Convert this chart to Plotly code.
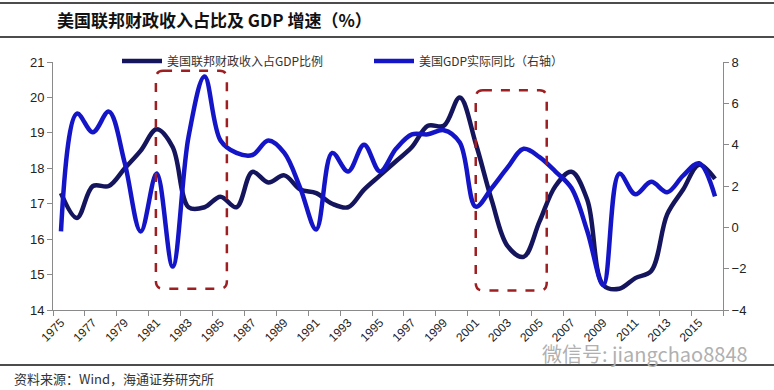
import plotly.graph_objects as go

years = list(range(1975, 2017))
revenue_pct_gdp = [17.3, 16.6, 17.5, 17.5, 18.0, 18.5, 19.1, 18.6, 16.9, 16.9,
                   17.2, 16.9, 17.9, 17.6, 17.8, 17.4, 17.3, 17.0, 16.9, 17.4,
                   17.8, 18.2, 18.6, 19.2, 19.2, 20.0, 18.7, 17.1, 15.8, 15.5,
                   16.5, 17.5, 17.9, 17.1, 14.7, 14.6, 14.9, 15.1, 16.7, 17.4,
                   18.1, 17.7]
gdp_growth = [-0.2, 5.5, 4.6, 5.6, 3.1, -0.2, 2.6, -1.9, 4.4, 7.3,
              4.2, 3.6, 3.5, 4.2, 3.6, 1.9, -0.1, 3.6, 2.7, 4.0,
              2.7, 3.8, 4.5, 4.5, 4.7, 4.1, 1.0, 1.9, 2.9, 3.8,
              3.4, 2.7, 1.9, -0.2, -2.8, 2.6, 1.6, 2.2, 1.7, 2.5,
              3.1, 1.5]
tick_years = list(range(1975, 2017, 2))
tick_labels = [str(y) for y in tick_years]

series_names = ["美国联邦财政收入占GDP比例", "美国GDP实际同比（右轴）"]
title_text = "<b>美国联邦财政收入占比及 GDP 增速（%）</b>"
source_text = "资料来源：Wind，海通证券研究所"
watermark_text = "微信号: jiangchao8848"

# highlighted periods: (x0, x1, y0, y1) on left axis
boxes = [(1980.95, 1985.4, 14.6, 20.75), (2001.0, 2005.45, 14.55, 20.2)]

PL, PR, PT, PB = 53, 51, 62, 80
W, H = 774, 390
pw, ph = W - PL - PR, H - PT - PB

def px2paper_x(px):
    return (px - PL) / pw

def px2paper_y(py):
    return (H - PB - py) / ph

fig = go.Figure()
fig.add_trace(go.Scatter(x=years, y=revenue_pct_gdp, name=series_names[0], mode="lines",
                         line=dict(color="#15155E", width=4.5, shape="spline", smoothing=1.0),
                         yaxis="y"))
fig.add_trace(go.Scatter(x=years, y=gdp_growth, name=series_names[1], mode="lines",
                         line=dict(color="#1515C8", width=4.5, shape="spline", smoothing=1.0),
                         yaxis="y2"))

font_fam = "Liberation Sans, Arial, Noto Sans CJK SC, sans-serif"
cjk_fam = "Noto Sans CJK SC, Liberation Sans, sans-serif"
axis_col = "#8a8a8a"

shapes = []
for (x0, x1, y0, y1) in boxes:
    rx, ry = 0.45, 0.22
    path = (f"M {x0+rx},{y1} L {x1-rx},{y1} Q {x1},{y1} {x1},{y1-ry} "
            f"L {x1},{y0+ry} Q {x1},{y0} {x1-rx},{y0} L {x0+rx},{y0} "
            f"Q {x0},{y0} {x0},{y0+ry} L {x0},{y1-ry} Q {x0},{y1} {x0+rx},{y1} Z")
    shapes.append(dict(type="path", path=path, xref="x", yref="y",
                       line=dict(color="#9E1F22", width=2.5, dash="dash")))

for py in [3, 37, 365]:
    shapes.append(dict(type="line", xref="paper", yref="paper",
                       x0=px2paper_x(0), x1=px2paper_x(W), y0=px2paper_y(py), y1=px2paper_y(py),
                       line=dict(color="#111111", width=1.5)))

annotations = [
    dict(text=title_text, xref="paper", yref="paper", x=px2paper_x(55), y=px2paper_y(19),
         xanchor="left", yanchor="middle", showarrow=False,
         font=dict(size=17, color="#111111", family=cjk_fam)),
    dict(text=source_text, xref="paper", yref="paper", x=px2paper_x(12), y=px2paper_y(378),
         xanchor="left", yanchor="middle", showarrow=False,
         font=dict(size=13, color="#333333", family=cjk_fam)),
    dict(text=watermark_text, xref="paper", yref="paper", x=px2paper_x(750), y=px2paper_y(353),
         xanchor="right", yanchor="middle", showarrow=False,
         font=dict(size=20, color="#b0b0b0", family=cjk_fam)),
]

fig.update_layout(
    width=W, height=H,
    margin=dict(l=PL, r=PR, t=PT, b=PB, autoexpand=False),
    paper_bgcolor="white", plot_bgcolor="white",
    font=dict(family=font_fam, size=12, color="#222222"),
    showlegend=True,
    legend=dict(orientation="h", xref="container", yref="container",
                x=117 / W, y=(H - 61) / H, xanchor="left", yanchor="middle",
                bgcolor="rgba(0,0,0,0)", entrywidth=197, entrywidthmode="pixels",
                font=dict(size=12, color="#333333", family=cjk_fam),
                itemwidth=40),
    xaxis=dict(range=[1974.5, 2016.5], tickmode="array", tickvals=tick_years, ticktext=tick_labels,
               tickangle=-45, ticks="", showgrid=False, zeroline=False, automargin=False,
               showline=True, linecolor=axis_col, linewidth=1,
               tickfont=dict(size=12, color="#222222"),
               minor=dict(ticks="outside", tick0=1974.5, dtick=2, ticklen=5, tickcolor=axis_col,
                          showgrid=False)),
    yaxis=dict(range=[14, 21], dtick=1, ticks="outside", ticklen=5, tickcolor=axis_col,
               showgrid=False, zeroline=False, showline=True, linecolor=axis_col, linewidth=1,
               automargin=False, tickfont=dict(size=13, color="#222222")),
    yaxis2=dict(range=[-4, 8], dtick=2, overlaying="y", side="right", ticks="outside", ticklen=5,
                tickcolor=axis_col, showgrid=False, zeroline=False, showline=True,
                automargin=False, linecolor=axis_col, linewidth=1,
                tickfont=dict(size=13, color="#222222")),
    shapes=shapes,
    annotations=annotations,
)

fig.write_html("out.html", config={"displayModeBar": False},
               post_script="document.body.style.margin='0';")
